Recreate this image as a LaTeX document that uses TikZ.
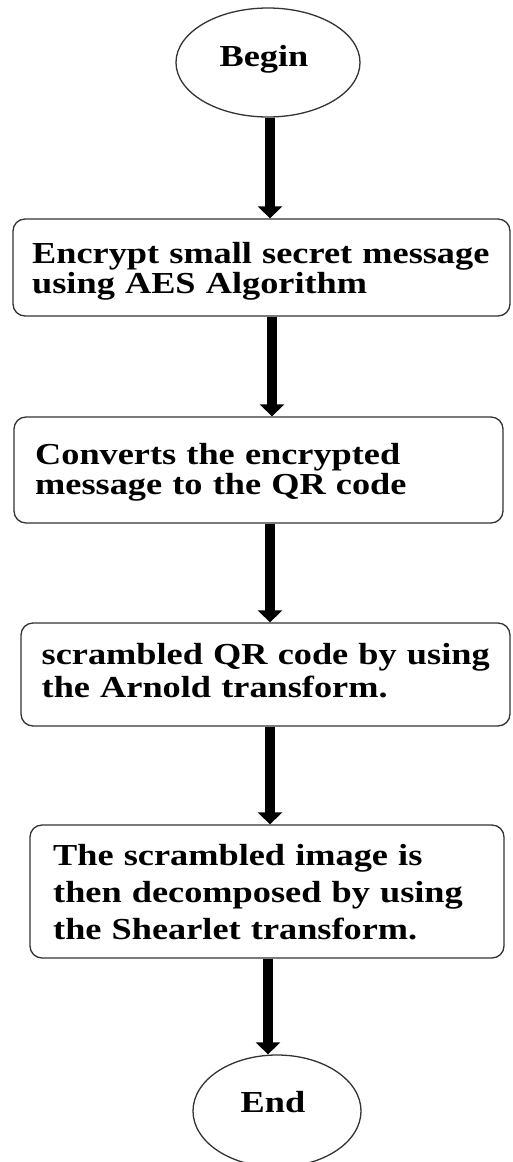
\documentclass[tikz,border=0pt]{standalone}
\usepackage{fontspec}
\setmainfont{Liberation Serif}[FakeStretch=1.19]
\usetikzlibrary{arrows.meta,shapes.geometric}
\begin{document}
\begin{tikzpicture}[x=1pt,y=-1pt,
  term/.style={draw=black!80, line width=1.3pt, ellipse, inner sep=0pt,
    font=\fontsize{30.5}{30}\bfseries\selectfont},
  flowbox/.style={draw=black!80, line width=1.3pt, rounded corners=12pt, inner sep=0pt},
  boxtext/.style={anchor=base west, inner sep=0pt, text width=475pt, align=left},
  flowarrow/.style={line width=10pt, -{Triangle[width=24pt,length=12pt]}}]
\useasboundingbox (0,0) rectangle (512,1162);
% terminals
\node[term, minimum width=184pt, minimum height=109pt, text height=20pt, text depth=11.6pt]
  (begin) at (268,62.5) {\kern-8pt Begin};
\node[term, minimum width=168pt, minimum height=112pt, text height=20pt, text depth=16.6pt]
  (end) at (277,1111) {\kern-8pt End};
% process boxes
\node[flowbox, minimum width=497pt, minimum height=97pt]  (b1) at (261.5,267.5) {};
\node[flowbox, minimum width=489pt, minimum height=106pt] (b2) at (258.5,470) {};
\node[flowbox, minimum width=489pt, minimum height=103pt] (b3) at (265.5,674.5) {};
\node[flowbox, minimum width=474pt, minimum height=133pt] (b4) at (267,891.5) {};
% box texts
\node[boxtext, font=\fontsize{30.5}{30}\bfseries\selectfont] (t1) at (32,263.3)
  {Encrypt small secret message\\using AES Algorithm};
\node[boxtext, font=\fontsize{30.5}{30}\bfseries\selectfont] (t2) at (35,464.5)
  {Converts the encrypted\\message to the QR code};
\node[boxtext, font=\fontsize{30.5}{33}\bfseries\selectfont] (t3) at (41.5,664.3)
  {scrambled QR code by using\\the Arnold transform.};
\node[boxtext, font=\fontsize{30.5}{37}\bfseries\selectfont] (t4) at (53,865)
  {The scrambled image is\\then decomposed by using\\the Shearlet transform.};
% connectors
\coordinate (ax) at (270,0);
\coordinate (ax2) at (272,0);
\coordinate (ax5) at (268,0);
\draw[flowarrow] (begin.south -| ax) -- (b1.north -| ax);
\draw[flowarrow] (b1.south -| ax2) -- (b2.north -| ax2);
\draw[flowarrow] (b2.south -| ax) -- (b3.north -| ax);
\draw[flowarrow] (b3.south -| ax) -- (b4.north -| ax);
\draw[flowarrow] (b4.south -| ax5) -- (end.north -| ax5);
\end{tikzpicture}
\end{document}
